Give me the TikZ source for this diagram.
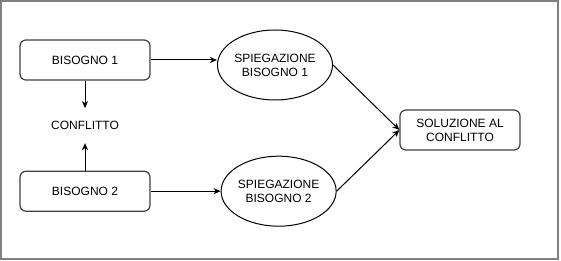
\documentclass[tikz,border=0pt]{standalone}
\usepackage{fontspec}
\setmainfont{Liberation Sans}
\usetikzlibrary{positioning, shapes.geometric, arrows.meta, calc}

\begin{document}
\begin{tikzpicture}[x=1pt, y=-1pt,
    font=\fontsize{12}{14}\selectfont, line width=1pt,
    need/.style={rectangle, draw=black!75, line width=1.2pt, rounded corners=6pt, minimum width=130pt, minimum height=40pt, align=center},
    explain/.style={ellipse, draw, minimum width=110pt, minimum height=70pt, inner sep=0pt, align=center},
    result/.style={rectangle, draw=black!75, line width=1.2pt, rounded corners=6pt, minimum width=120pt, minimum height=40pt, align=center},
    arrow/.style={-{Stealth[length=7pt, width=6pt, inset=2pt]}}
]
\useasboundingbox (0,0) rectangle (561,261);
\draw[gray, line width=2pt] (1,1) rectangle (558,259);

% Needs
\node (need1) [need] at (85,60) {BISOGNO 1};
\node (need2) [need, below=90pt of need1] {BISOGNO 2};
\node (conflict) [minimum height=34pt] at ($(need1)!0.5!(need2)$) {CONFLITTO};

% Explanations
\node (expl1) [explain] at (275,65) {SPIEGAZIONE\\BISOGNO 1};
\node (expl2) [explain, right=70pt of need2] {SPIEGAZIONE\\BISOGNO 2};

% Solution
\node (sol) [result] at (460,130) {SOLUZIONE AL\\CONFLITTO};

% Arrows
\draw [arrow] (need1) -- (conflict);
\draw [arrow] (need2) -- (conflict);
\draw [arrow] (need1.east) -- (need1.east -| expl1.west);
\draw [arrow] (need2) -- (expl2);
\draw [arrow] (expl1.east) -- (sol.west);
\draw [arrow] (expl2.east) -- (sol.west);

\end{tikzpicture}
\end{document}
